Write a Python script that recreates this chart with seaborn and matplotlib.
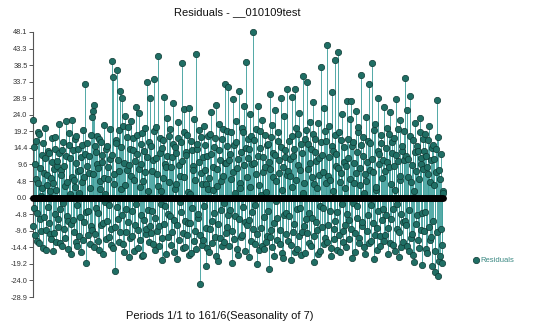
import matplotlib
matplotlib.use("Agg")
import matplotlib.pyplot as plt
import seaborn as sns
import numpy as np
import pandas as pd

title = "Residuals - __010109test"
x_label = "Periods 1/1 to 161/6(Seasonality of 7)"
legend_label = "Residuals"
y_tick_labels = ["48.1", "43.3", "38.5", "33.7", "28.9", "24.0", "19.2", "14.4", "9.6",
                 "4.8", "0.0", "-4.8", "-9.6", "-14.4", "-19.2", "-24.0", "-28.9"]
y_min, y_max = -28.9, 48.1

residuals = [
    22.5, -8.2, -3.1, 14.6, 9.8, -11.0, 16.4, 5.3, -12.7, -4.5, 4.2, 19.1, 18.5, -13.3, -6.3, 8.7, 0.5, -9.8, 12.3, 2.9,
    -14.8, 15.8, 7.1, -5.7, 20.2, 11.4, -9.4, -15.2, 3.6, 6.6, -2.8, 13.5, 12.9, -7.4, -10.5, 1.8, 5.7, -12.1, 17.3, 10.2,
    -15.6, 4.1, 8.4, -10.2, 14.1, 17.6, -4.9, -12.8, 2.3, 9.2, 10.6, -6.1, -8.7, 13.0, 21.3, -3.4, -13.2, 7.9, 6.5, -14.0,
    13.8, 16.1, -1.7, -9.0, 9.1, 3.3, -11.9, 12.2, 22.2, -5.5, 4.4, -15.0, -6.8, 18.7, 15.2, 1.0, 11.5, -7.7, -16.3, 6.0,
    22.5, -6.4, 13.7, 5.0, -9.9, 16.9, 3.2, -13.0, 17.8, 10.0, -14.1, -2.1, 7.7, 14.2, 1.4, -11.2, -5.6, 8.1, 11.8, -15.8,
    15.4, 4.6, -12.4, 19.5, 6.1, -7.0, 33.0, 12.7, -18.9, -4.2, 9.3, 15.9, -3.9, -10.8, 12.1, 7.2, 2.8, -13.6, -8.2, 18.2,
    23.3, -9.5, 25.0, 6.8, 26.8, -14.4, -10.7, 15.1, 13.1, -3.0, 18.0, 9.7, -4.4, -12.6, 8.6, 17.0, -15.3, 2.5, 4.9, -8.0,
    16.2, 12.5, 10.4, -16.5, -7.3, 5.8, 21.0, -1.4, 0.9, 14.0, -12.0, -6.7, 14.9, 9.0, 5.4, -11.5, -2.2, 19.8, 11.2, -13.9,
    -9.1, 12.3, 39.8, -14.7, 35.1, 4.0, 6.9, -8.5, -21.3, 16.8, 15.8, -2.7, 37.0, 11.0, -6.1, -12.9, 19.6, 7.6, 31.0, -10.1,
    2.4, 14.8, 29.0, -5.2, -13.6, 20.9, 10.1, -15.7, 23.8, 3.7, -3.3, -9.9, 8.0, 17.7, 20.4, -7.2, -17.4, 9.5, 14.0, -11.8,
    22.1, 6.2, -11.1, -4.0, 17.2, 13.7, 5.1, -15.4, -7.9, 10.7, 26.2, -1.9, 12.6, 18.3, -14.6, -9.3, 24.5, 8.4, 3.0, -12.2,
    9.7, 15.6, -5.1, -17.1, 18.8, 4.9, -16.8, -6.5, 13.4, 20.1, 7.3, -10.6, -9.0, 11.9, 33.5, -3.6, 1.8, 16.2, -12.8, -8.3,
    28.9, -10.4, 15.0, 7.8, -4.0, -13.5, 10.9, 19.3, 34.5, -6.0, -15.1, 11.6, 20.6, -9.7, 6.7, 3.4, 41.0, -14.2, -8.4, 17.4,
    12.8, -2.0, 2.0, -11.7, -18.1, 14.4, 16.7, 5.6, 29.2, -7.6, -2.6, 9.8, 8.9, -16.4, 23.1, 12.0, -11.6, -4.8, 4.6, 18.0,
    19.9, -5.3, -13.9, 8.9, 11.7, -10.0, 27.4, 15.5, -6.6, -15.9, 14.6, 2.6, 3.8, 12.9, -17.9, -8.1, 21.9, 17.2, 9.5, -12.4,
    -1.2, 6.4, 16.0, -4.3, 39.0, 10.6, -10.2, -14.8, 25.6, 19.0, 5.9, -6.9, -14.3, 13.3, 12.4, -11.0, 18.1, 1.5, -7.5, -16.7,
    26.1, -7.4, 1.1, 16.4, -16.0, -3.1, 13.9, 9.1, 7.9, -12.7, 22.8, 5.0, -9.7, -15.0, 41.8, 14.1, 15.6, -5.9, -4.7, 19.6,
    10.3, -10.9, -25.0, 7.0, 17.5, -13.8, 4.0, 11.8, -12.2, -2.4, 20.8, 15.3, 8.1, -8.8, -19.8, 3.9, 12.0, -14.6, 2.6, 17.9,
    -15.9, 5.7, 18.6, -9.2, 24.8, 12.6, -6.9, -13.1, 9.0, 2.2, 14.8, -4.6, -11.4, 17.3, 27.0, -16.9, 3.4, 8.3, -18.5, -7.8,
    21.5, 13.9, 11.0, -11.9, -3.6, 4.8, 16.9, -14.1, 6.3, 19.9, -13.0, -1.6, 33.0, 9.9, 10.0, -10.3, -8.6, 15.0, 19.4, -5.0,
    32.0, 10.8, -14.0, -3.5, 12.7, 18.9, 5.5, -9.6, -19.0, 7.3, 28.5, -12.0, 15.3, 1.2, -5.4, 16.0, 22.3, -14.9, 8.7, 11.3,
    -16.6, -6.3, 31.0, 4.2, 2.9, -11.4, 13.3, 20.2, -10.9, -2.8, 19.0, 9.4, 26.5, -15.6, -7.1, 14.5, 39.5, -8.0, 6.0, 17.1,
    11.6, -6.6, -17.2, 14.2, 24.2, 3.0, 17.9, -12.5, -4.3, 9.6, 48.1, -9.1, 9.9, 16.6, -13.4, -2.3, 20.0, 6.9, -19.3, -10.7,
    26.5, 12.1, 3.5, -15.3, 14.3, 19.2, -8.9, 0.8, 22.5, -14.0, 7.5, 11.7, -15.0, -5.6, 18.3, 8.8, 1.6, -12.9, -11.3, 15.4,
    15.7, -3.8, -20.7, 10.4, 30.0, -11.6, 8.2, 17.5, -9.3, -14.5, 21.2, 5.9, 13.0, -7.3, -16.9, 12.4, 25.3, -1.0, 4.7, -12.3,
    -6.0, 16.3, 18.9, 7.1, 10.8, -9.4, -13.5, 14.6, 29.0, -16.0, 2.1, 9.0, -17.7, -5.1, 23.6, 13.8, 11.9, -10.5, -4.6, 6.5,
    31.4, 7.7, -12.5, -5.5, 16.3, 11.1, 6.4, -13.7, -18.2, 3.2, 29.2, 17.8, 12.2, -9.9, -7.8, 14.0, 31.4, -15.8, 20.3, 5.1,
    -14.9, -3.2, 9.4, 18.5, 24.7, -11.3, -2.9, 8.0, 15.5, -16.6, -10.0, 12.8, 35.4, 1.4, 4.3, -8.4, -16.2, 16.9, 19.7, -6.2,
    33.7, -10.2, 8.3, 15.7, -13.1, -4.4, 22.0, 9.9, 14.2, -14.1, -5.9, 6.0, 27.8, 18.6, 3.9, -11.1, -18.7, 13.1, 17.0, -7.0,
    10.7, 2.7, -9.5, -16.3, 21.7, 11.5, 6.6, -2.5, -15.5, 16.0, 38.0, -8.7, 12.5, 7.4, -3.0, -13.4, 25.9, 19.4, -11.8, 4.1,
    16.5, -12.9, 44.4, 6.3, -8.0, 11.8, 20.9, -3.9, 5.2, -14.8, -17.0, 15.1, 30.8, 1.9, 13.6, -9.1, -12.1, 18.1, 40.0, -6.8,
    9.2, 12.6, -4.1, -15.1, 42.4, 8.6, 19.1, -11.0, -15.7, 4.4, 7.0, 16.8, 24.4, -2.0, -9.8, -13.0, 14.7, 10.3, 2.7, -7.9,
    -14.5, 9.3, 28.0, -4.7, 11.4, 17.0, -6.4, -12.0, 22.7, 5.4, 28.0, -9.0, -17.6, 14.9, 16.1, -1.5, 4.1, 10.1, -10.4, -15.9,
    25.0, 7.0, 13.2, -6.0, -2.4, 19.0, 20.5, -11.7, -13.3, 3.6, 8.5, 15.4, 35.7, -8.2, -7.0, 12.1, 17.6, -14.3, 1.3, 6.9,
    -16.5, 4.9, 23.4, -9.7, 10.2, 16.4, -5.2, -13.1, 33.0, 8.0, 15.9, -2.1, -12.6, 11.2, 39.2, -7.5, 7.4, 19.6, -18.0, -10.8,
    21.4, 2.3, 3.1, -15.2, -8.8, 13.6, 29.0, -4.0, 12.6, 9.7, -14.2, -11.2, 18.2, 15.8, 5.8, -6.4, -3.4, 10.9, 26.3, -12.7,
    -11.0, 7.6, 14.5, -5.0, 20.1, 10.3, -16.4, -8.9, 8.8, 18.4, 24.9, -13.2, -6.2, 3.8, 12.9, 16.0, -13.8, -3.3, 17.4, 9.2,
    2.2, -15.6, 28.6, 12.3, -9.2, -1.9, 10.5, 20.0, -17.3, -10.1, 22.4, 5.2, 6.2, -14.4, -4.8, 13.4, 15.1, -7.1, -12.9, 11.0,
    19.3, -6.9, 34.6, 12.0, -8.1, -14.0, 25.5, 6.1, 11.1, -3.7, -15.4, 17.8, 29.6, -11.9, 4.5, 9.4, -10.6, -16.8, 16.6, 2.0,
    -18.6, 13.2, 21.8, -7.7, 7.8, 15.0, -5.0, -12.4, 13.5, 5.5, -14.7, 19.1, 23.0, -9.3, 9.6, 11.4, -19.5, -4.5, 17.1, 8.3,
    -9.6, 13.5, 18.4, -4.2, 12.2, -14.9, -16.1, 9.0, 6.8, 16.7, 20.7, -8.6, -12.3, 4.6, 10.9, -11.5, -20.0, 14.3, 15.2, -6.7,
    3.7, 11.1, -21.5, -15.5, 14.1, 7.5, 28.2, -10.0, -22.8, 17.5, 8.0, -18.4, -17.0, 5.3, 12.7, -9.1, -13.7, -19.0, 2.0, 1.2,
]

df = pd.DataFrame({"period": np.arange(len(residuals)), "residual": residuals})

sns.set_theme(style="white")
plt.rcParams["font.family"] = ["Liberation Sans", "DejaVu Sans"]

fig = plt.figure(figsize=(5.40, 3.31), dpi=100)
ax = fig.add_axes([33 / 540, 1 - 297 / 331, 410 / 540, 265 / 331])

stem_color = "#3fa09c"
ax.vlines(df["period"], 0, df["residual"], colors=stem_color, linewidth=0.7, alpha=0.9, zorder=1)
sns.scatterplot(data=df, x="period", y="residual", ax=ax, s=21, color="#1f6e64",
                edgecolor="#0e3a34", linewidth=0.5, zorder=3, label=legend_label, clip_on=False)
ax.plot([df["period"].iloc[0], df["period"].iloc[-1]], [0, 0], color="black", linewidth=5.0,
        solid_capstyle="round", zorder=4, clip_on=False)

ax.set_xlim(0, len(residuals) - 1)
ax.set_ylim(y_min, y_max)
ticks = np.linspace(y_max, y_min, len(y_tick_labels))
ax.set_yticks(ticks)
ax.set_yticklabels(y_tick_labels)
ax.set_xticks([])
ax.set_xlabel("")
ax.set_ylabel("")
ax.tick_params(axis="y", which="both", left=True, length=3, width=0.7, color="#555555",
               labelsize=5.3, labelcolor="#333333", pad=1)
for s in ["top", "right", "bottom"]:
    ax.spines[s].set_visible(False)
ax.spines["left"].set_color("#555555")
ax.spines["left"].set_linewidth(0.8)

fig.text(237 / 540, 1 - 12 / 331, title, ha="center", va="center", fontsize=8, color="#111111")
fig.text(220 / 540, 1 - 316 / 331, x_label, ha="center", va="center", fontsize=8, color="#111111")

leg = ax.legend(loc="center left", bbox_to_anchor=(468 / 540, 1 - 260 / 331),
                bbox_transform=fig.transFigure, frameon=False, fontsize=5.5,
                handletextpad=0.1, borderpad=0, handlelength=1.0, markerscale=1.0)
for t in leg.get_texts():
    t.set_color("#3d8a84")

fig.savefig("out.png", dpi=100)
